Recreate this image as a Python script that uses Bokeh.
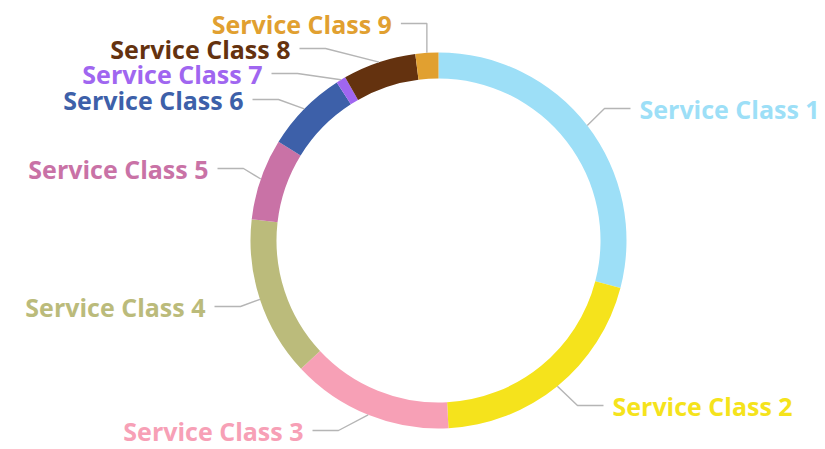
import math
from bokeh.plotting import figure
from bokeh.models import Range1d, ColumnDataSource
from bokeh.embed import file_html
from bokeh.resources import INLINE
from bokeh.core.properties import value

# ---- data ----
categories = ["Service Class 1", "Service Class 2", "Service Class 3", "Service Class 4",
              "Service Class 5", "Service Class 6", "Service Class 7", "Service Class 8",
              "Service Class 9"]
values = [29.06, 20.1, 13.9, 13.75, 7.0, 7.1, 0.83, 6.3, 1.97]
colors = ["#9DDFF7", "#F5E31C", "#F7A0B6", "#BBBB7B", "#C972A6", "#3D60A9",
          "#A066F0", "#64320F", "#E1A030"]

# ---- layout (pixels from top-left) ----
W, H = 825, 449
CX, CY = 438, 240
R_OUT, R_IN = 188, 162
label_py = [108, 405, 430, 306, 168, 99, 73, 48, 23]
elbow_px = [604, 577, 338, 240, 243, 278, 297, 325, None]
side = [1, 1, -1, -1, -1, -1, -1, -1, -1]
HSEG, GAP = 26, 9

p = figure(width=W, height=H, x_range=Range1d(0, W), y_range=Range1d(0, H),
           output_backend="svg", toolbar_location=None, min_border=0)
p.axis.visible = False
p.grid.visible = False
p.outline_line_color = None
p.background_fill_color = "white"
p.border_fill_color = "white"

total = sum(values)
cum = 0.0
starts, ends, mids = [], [], []
for v in values:
    a0 = math.pi / 2 - 2 * math.pi * cum / total
    cum += v
    a1 = math.pi / 2 - 2 * math.pi * cum / total
    starts.append(a0)
    ends.append(a1)
    mids.append((a0 + a1) / 2)

cy = H - CY
src = ColumnDataSource(dict(x=[CX] * len(values), y=[cy] * len(values),
                            s=starts, e=ends, c=colors))
p.annular_wedge(x="x", y="y", inner_radius=R_IN, outer_radius=R_OUT,
                start_angle="s", end_angle="e", direction="clock",
                fill_color="c", line_color=None, source=src)

lx, ly, tx, ty, ta = [], [], [], [], []
for i, m in enumerate(mids):
    ax = CX + R_OUT * math.cos(m)
    ay = cy + R_OUT * math.sin(m)
    yy = H - label_py[i]
    ex = elbow_px[i] if elbow_px[i] is not None else ax
    endx = ex + side[i] * HSEG
    lx.append([ax, ex, endx])
    ly.append([ay, yy, yy])
    tx.append(endx + side[i] * GAP)
    ty.append(yy)
    ta.append("left" if side[i] > 0 else "right")

p.multi_line(xs=lx, ys=ly, line_color="#B5B5B5", line_width=1.4)
tsrc = ColumnDataSource(dict(x=tx, y=ty, t=categories, c=colors, a=ta))
p.text(x="x", y="y", text="t", text_color="c", text_align="a",
       text_baseline="middle", text_font=value("Open Sans"),
       text_font_style="bold", text_font_size="25px", source=tsrc)

open("out.html", "w").write(file_html(p, INLINE))
